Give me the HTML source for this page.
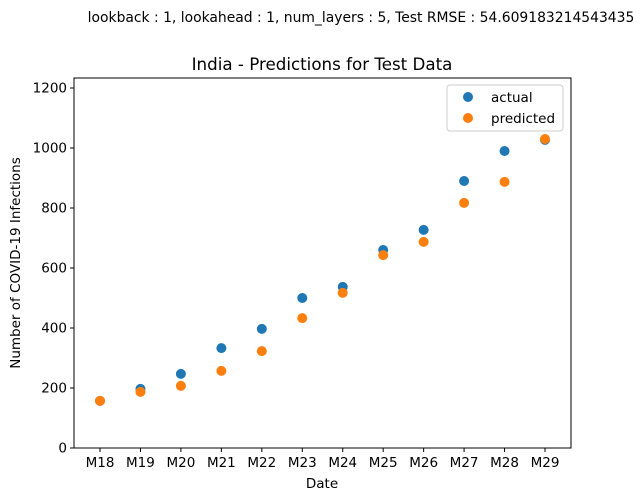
<!DOCTYPE html>
<html><head><meta charset="utf-8"><style>
html,body{margin:0;padding:0;background:#fff;}
svg{display:block;font-family:"DejaVu Sans","Liberation Sans",sans-serif;}
</style></head><body>
<svg id="chart" width="644" height="501" viewBox="0 0 644 501">
<text x="361" y="22" font-size="13.9" text-anchor="middle">lookback : 1, lookahead : 1, num_layers : 5, Test RMSE : 54.609183214543435</text>
<text x="322" y="70" font-size="16.7" text-anchor="middle">India - Predictions for Test Data</text>
<g id="ticks"></g>
<g id="marks"></g>
<rect x="74" y="78" width="497" height="370" fill="none" stroke="#000" stroke-width="1"/>
<text x="322" y="488" font-size="13.5" text-anchor="middle">Date</text>
<text transform="translate(20,263) rotate(-90)" font-size="13.5" text-anchor="middle">Number of COVID-19 Infections</text>
<g>
<rect x="447" y="85" width="116" height="46" rx="3" fill="#fff" stroke="#ccc" stroke-width="1"/>
<circle cx="468" cy="97" r="5" fill="#1f77b4"/>
<text x="491" y="102" font-size="13.5">actual</text>
<circle cx="468" cy="118" r="5" fill="#ff7f0e"/>
<text x="491" y="123" font-size="13.5">predicted</text>
</g>
</svg>
<script>
const categories = ["M18","M19","M20","M21","M22","M23","M24","M25","M26","M27","M28","M29"];
const actual = [157,197,247,333,397,500,537,660,727,890,990,1027];
const predicted = [157,187,207,257,323,433,517,643,687,817,887,1030];
const yTicks = [0,200,400,600,800,1000,1200];
const NS="http://www.w3.org/2000/svg";
const x0=100, dx=(545-100)/11;
function xs(i){return x0+i*dx;}
function ys(v){return 448-v*0.3;}
const tg=document.getElementById('ticks'), mg=document.getElementById('marks');
function mk(tag,attrs,parent){const e=document.createElementNS(NS,tag);for(const k in attrs)e.setAttribute(k,attrs[k]);parent.appendChild(e);return e;}
yTicks.forEach(v=>{
  const l=mk('line',{x1:70,x2:74,y1:ys(v),y2:ys(v),stroke:'#000'},tg);
  
  
  const t=mk('text',{x:67,y:ys(v)+4.5,'font-size':13.5,'text-anchor':'end'},tg);
  
  
  t.textContent=v;
});
categories.forEach((c,i)=>{
  const l=mk('line',{x1:xs(i),x2:xs(i),y1:448,y2:452,stroke:'#000'},tg);
  
  
  const t=mk('text',{x:xs(i),y:467,'font-size':13.5,'text-anchor':'middle'},tg);
  
  
  t.textContent=c;
});
actual.forEach((v,i)=>{
  const p=mk('circle',{cx:xs(i),cy:ys(v),r:5,fill:'#1f77b4'},mg);
  
  
});
predicted.forEach((v,i)=>{
  const p=mk('circle',{cx:xs(i),cy:ys(v),r:5,fill:'#ff7f0e'},mg);
  
  
});
</script>
</body></html>
